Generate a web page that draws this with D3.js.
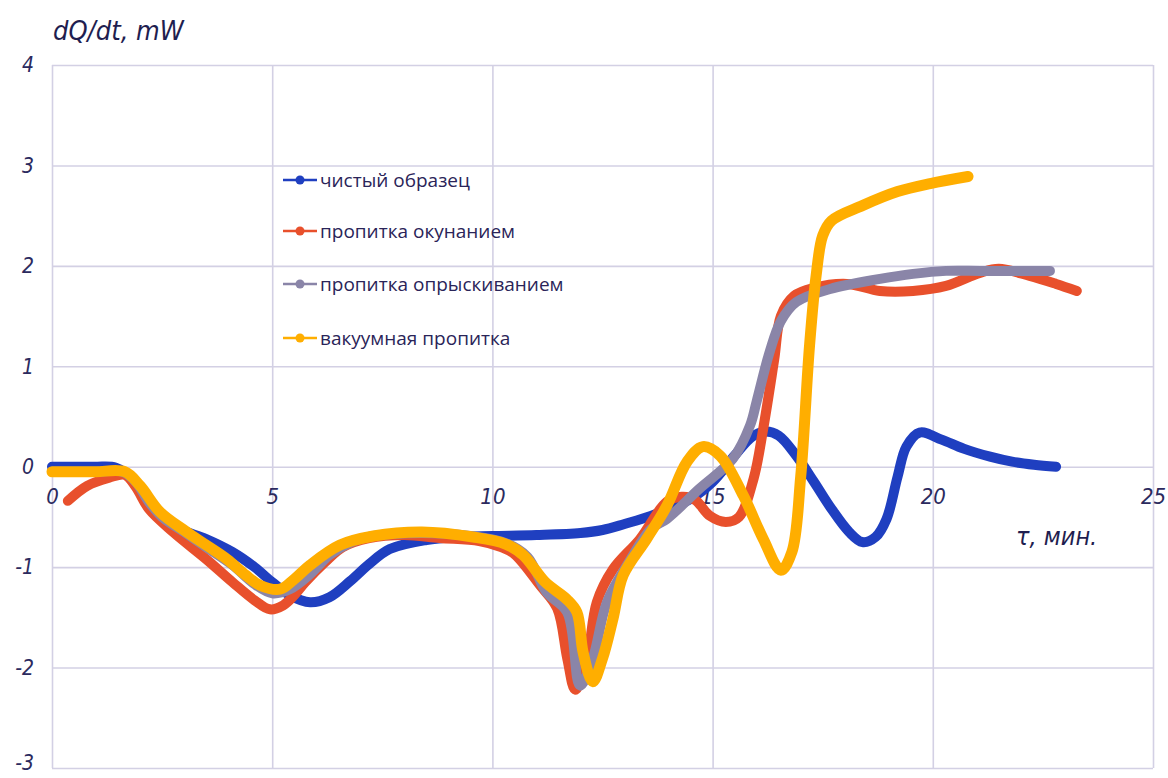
<!DOCTYPE html>
<html>
<head>
<meta charset="utf-8">
<script src="https://cdn.jsdelivr.net/npm/d3@7"></script>
<style>
  body { margin: 0; background: #fff; }
  .tick text { font-family: "Liberation Sans Narrow", "DejaVu Sans Condensed", sans-serif; font-style: italic; fill: #2b2a5e; }
</style>
</head>
<body>
<div id="chart"></div>
<script>
// series names and colours
var names = ["чистый образец", "пропитка окунанием", "пропитка опрыскиванием", "вакуумная пропитка"];
var colors = ["#1f3fc0", "#e8502c", "#8a85a8", "#ffae00"];

// [t, dQ/dt]
var blue = [[0,0],[0.5,0],[1.0,0],[1.45,-0.01],[1.85,-0.13],[2.2,-0.35],[2.6,-0.52],[2.9,-0.62],[3.5,-0.72],[4.1,-0.85],[4.6,-1.0],[5.0,-1.15],[5.4,-1.28],[5.86,-1.35],[6.3,-1.3],[6.77,-1.14],[7.2,-0.97],[7.67,-0.82],[8.5,-0.73],[9.2,-0.7],[10,-0.69],[11,-0.68],[12,-0.66],[12.5,-0.63],[13,-0.57],[13.6,-0.49],[14.5,-0.32],[15,-0.15],[15.5,0.11],[15.9,0.3],[16.2,0.35],[16.5,0.31],[16.9,0.11],[17.3,-0.15],[17.7,-0.42],[18.1,-0.65],[18.4,-0.75],[18.7,-0.7],[18.95,-0.52],[19.2,-0.1],[19.4,0.2],[19.7,0.34],[20.2,0.27],[20.7,0.18],[21.3,0.1],[21.8,0.05],[22.3,0.02],[22.8,0]];
var red = [[0.36,-0.34],[0.8,-0.19],[1.3,-0.11],[1.65,-0.08],[1.9,-0.2],[2.2,-0.42],[2.75,-0.65],[3.5,-0.92],[4.1,-1.15],[4.6,-1.33],[4.95,-1.42],[5.25,-1.38],[5.5,-1.28],[5.75,-1.15],[6.2,-0.95],[6.6,-0.8],[7.2,-0.71],[8.0,-0.68],[8.8,-0.71],[9.7,-0.74],[10.2,-0.8],[10.5,-0.87],[11.08,-1.18],[11.47,-1.41],[11.7,-1.91],[11.88,-2.22],[12.15,-1.91],[12.37,-1.35],[12.74,-1.02],[13.35,-0.72],[13.96,-0.35],[14.3,-0.3],[14.6,-0.33],[14.94,-0.49],[15.3,-0.55],[15.6,-0.5],[15.93,-0.12],[16.15,0.38],[16.4,1.07],[16.55,1.5],[16.85,1.7],[17.3,1.78],[18.05,1.82],[18.8,1.75],[19.55,1.75],[20.3,1.8],[21.07,1.93],[21.5,1.97],[22.2,1.9],[22.8,1.82],[23.27,1.75]];
var gray = [[0,-0.05],[0.5,-0.05],[1.0,-0.05],[1.6,-0.05],[1.9,-0.15],[2.2,-0.35],[2.5,-0.5],[3.0,-0.65],[3.5,-0.8],[4.1,-0.98],[4.6,-1.17],[5.0,-1.26],[5.4,-1.22],[5.86,-1.07],[6.3,-0.88],[6.8,-0.75],[7.3,-0.69],[8.4,-0.66],[9.5,-0.69],[10.3,-0.76],[10.8,-0.9],[11.23,-1.25],[11.7,-1.45],[11.99,-2.18],[12.28,-1.91],[12.6,-1.35],[13.1,-0.95],[13.6,-0.62],[13.96,-0.52],[14.7,-0.22],[15.46,0.08],[15.85,0.41],[16.0,0.65],[16.3,1.15],[16.55,1.45],[16.9,1.64],[17.67,1.77],[18.8,1.87],[19.55,1.92],[20.3,1.95],[21.07,1.95],[22,1.95],[22.66,1.95]];
var orange = [[0,-0.05],[0.5,-0.05],[1.0,-0.05],[1.65,-0.05],[2.0,-0.19],[2.45,-0.45],[3.06,-0.65],[3.5,-0.78],[3.97,-0.92],[4.4,-1.08],[4.72,-1.18],[5.18,-1.22],[5.5,-1.12],[5.86,-0.98],[6.54,-0.78],[7.3,-0.69],[8.4,-0.65],[9.56,-0.7],[10.3,-0.77],[10.7,-0.88],[11.2,-1.15],[11.69,-1.32],[11.92,-1.45],[12.06,-1.85],[12.28,-2.14],[12.5,-1.91],[12.74,-1.51],[12.97,-1.08],[13.5,-0.72],[13.96,-0.39],[14.42,0.05],[14.78,0.2],[15.17,0.11],[15.7,-0.29],[16.15,-0.72],[16.55,-1.03],[16.8,-0.85],[17.0,-0.1],[17.2,1.2],[17.35,1.9],[17.5,2.3],[17.7,2.45],[18.4,2.6],[19.2,2.74],[19.94,2.82],[20.8,2.89]];
var series = [blue, red, gray, orange];

var xTicks = [0, 5, 10, 15, 20, 25];
var yTicks = [-3, -2, -1, 0, 1, 2, 3, 4];

// set the dimensions and margins of the graph
var margin = { top: 65, right: 15, bottom: 10, left: 52 },
  width = 1168 - margin.left - margin.right,
  height = 778 - margin.top - margin.bottom;

var svg = d3.select("#chart")
  .append("svg")
  .attr("width", 1168)
  .attr("height", 778)
  .append("g")
  .attr("transform", "translate(" + margin.left + "," + margin.top + ")");

var x = d3.scaleLinear().domain([0, 25]).range([0, width]);
var y = d3.scaleLinear().domain([-3, 4]).range([height, 0]);

// grid lines
svg.append("g")
  .attr("transform", "translate(0," + height + ")")
  .call(d3.axisBottom(x).tickValues(xTicks).tickSize(-height).tickFormat(""));
svg.append("g")
  .call(d3.axisLeft(y).tickValues(yTicks).tickSize(-width).tickFormat(""));
svg.selectAll(".domain").remove();
svg.selectAll(".tick line").attr("stroke", "#d3d0e4").attr("stroke-width", 1.6);

// tick labels
var lx = svg.append("g")
  .attr("transform", "translate(0," + y(0) + ")")
  .call(d3.axisBottom(x).tickValues(xTicks).tickSize(0).tickPadding(22));
lx.select(".domain").remove();
lx.selectAll("text").style("font-size", "22px");

var ly = svg.append("g")
  .call(d3.axisLeft(y).tickValues(yTicks).tickSize(0).tickPadding(18));
ly.select(".domain").remove();
ly.selectAll("text")
  .style("font-size", "21px")
  .attr("dy", function (d) { return d == -3 ? "0.05em" : "0.32em"; })
  .text(function (d) { return d < 0 ? "-" + Math.abs(d) : d; });

// the lines
var line = d3.line()
  .curve(d3.curveCatmullRom.alpha(0.5))
  .x(function (d) { return x(d[0]); })
  .y(function (d) { return y(d[1]); });

series.forEach(function (s, i) {
  svg.append("path")
    .datum(s)
    .attr("fill", "none")
    .attr("stroke", colors[i])
    .attr("stroke-width", i == 3 ? 11 : 10)
    .attr("stroke-linecap", "round")
    .attr("stroke-linejoin", "round")
    .attr("d", line);
});

// axis titles
var root = d3.select("svg");
root.append("text")
  .attr("x", 53)
  .attr("y", 40)
  .text("dQ/dt, mW")
  .style("font-family", "'Liberation Sans Narrow', 'DejaVu Sans Condensed', sans-serif")
  .style("font-style", "italic")
  .style("font-size", "27px")
  .style("fill", "#1f1e50");
root.append("text")
  .attr("x", 1016)
  .attr("y", 545)
  .text("τ, мин.")
  .style("font-family", "'Liberation Sans Narrow', 'DejaVu Sans Condensed', sans-serif")
  .style("font-style", "italic")
  .style("font-size", "25px")
  .style("fill", "#1f1e50");

// legend
var legendY = [180, 231, 284, 338];
names.forEach(function (n, i) {
  var g = root.append("g").attr("transform", "translate(283," + legendY[i] + ")");
  g.append("line").attr("x1", 0).attr("x2", 34).attr("y1", 0).attr("y2", 0)
    .attr("stroke", colors[i]).attr("stroke-width", 2.5);
  g.append("circle").attr("cx", 17).attr("cy", 0).attr("r", 4.5).attr("fill", colors[i]);
  g.append("text").attr("x", 37).attr("y", 0).attr("dy", "0.35em")
    .text(n)
    .style("font-family", "'Open Sans', sans-serif")
    .style("font-size", "19px")
    .style("fill", "#2a2458");
});
</script>
</body>
</html>
